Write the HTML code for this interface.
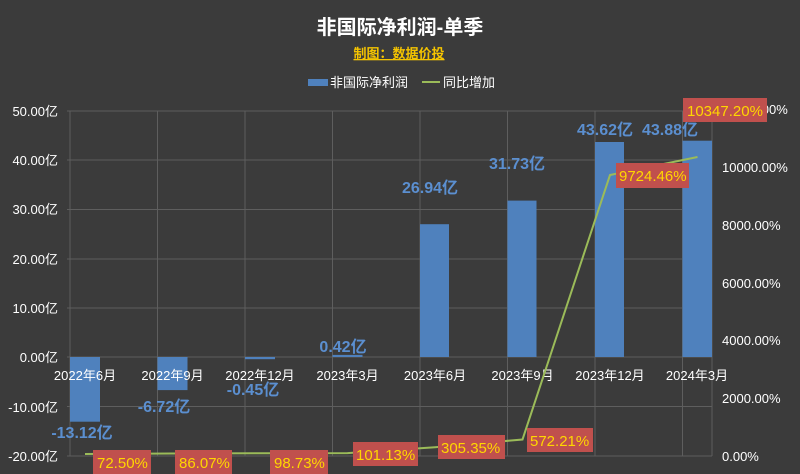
<!DOCTYPE html>
<html><head><meta charset="utf-8"><style>
html,body{margin:0;padding:0;background:#3b3b3b;}
svg{display:block;font-family:"Liberation Sans","Noto Sans CJK SC",sans-serif;}
</style></head><body>
<svg width="800" height="474" viewBox="0 0 800 474">
<rect width="800" height="474" fill="#3b3b3b"/>
<text x="400" y="34" text-anchor="middle" fill="#fff" font-size="20" font-weight="bold">非国际净利润-单季</text>
<text x="399" y="58" text-anchor="middle" fill="#f5c400" font-size="13" font-weight="bold" text-decoration="underline">制图：数据价投</text>
<rect x="308" y="79" width="20" height="7" fill="#4f81bd"/>
<text x="330" y="87" fill="#fff" font-size="13">非国际净利润</text>
<line x1="422" y1="82" x2="440" y2="82" stroke="#9bbb59" stroke-width="2"/>
<text x="443" y="87" fill="#fff" font-size="13">同比增加</text>
<g stroke="#5e5e5e" stroke-width="1">
<line x1="67" y1="111" x2="712" y2="111"/><line x1="67" y1="160" x2="712" y2="160"/>
<line x1="67" y1="209.5" x2="712" y2="209.5"/><line x1="67" y1="259" x2="712" y2="259"/>
<line x1="67" y1="308" x2="712" y2="308"/><line x1="67" y1="357" x2="712" y2="357"/>
<line x1="67" y1="406.5" x2="712" y2="406.5"/><line x1="67" y1="456" x2="712" y2="456"/>
<line x1="70" y1="111" x2="70" y2="456"/><line x1="157.5" y1="111" x2="157.5" y2="456"/>
<line x1="245" y1="111" x2="245" y2="456"/><line x1="332.5" y1="111" x2="332.5" y2="456"/>
<line x1="420" y1="111" x2="420" y2="456"/><line x1="507.5" y1="111" x2="507.5" y2="456"/>
<line x1="595" y1="111" x2="595" y2="456"/><line x1="682.5" y1="111" x2="682.5" y2="456"/>
<line x1="712" y1="111" x2="712" y2="456"/>
</g>
<g fill="#fff" font-size="13" text-anchor="end">
<text x="58" y="116">50.00亿</text><text x="58" y="165">40.00亿</text><text x="58" y="214">30.00亿</text>
<text x="58" y="264">20.00亿</text><text x="58" y="313">10.00亿</text><text x="58" y="362">0.00亿</text>
<text x="58" y="412">-10.00亿</text><text x="58" y="461">-20.00亿</text>
</g>
<g fill="#fff" font-size="13" text-anchor="start">
<text x="722" y="114">12000.00%</text><text x="722" y="172">10000.00%</text><text x="722" y="230">8000.00%</text>
<text x="722" y="288">6000.00%</text><text x="722" y="345">4000.00%</text><text x="722" y="403">2000.00%</text>
<text x="722" y="461">0.00%</text>
</g>
<g fill="#4f81bd">
<rect x="70" y="357" width="30" height="64.7"/>
<rect x="157.5" y="357" width="30" height="33.1"/>
<rect x="245" y="357" width="30" height="2.2"/>
<rect x="332.5" y="354.9" width="30" height="2.1"/>
<rect x="420" y="224.2" width="29" height="132.8"/>
<rect x="507.5" y="200.6" width="29" height="156.4"/>
<rect x="595" y="142" width="29" height="215"/>
<rect x="682.5" y="140.7" width="29.5" height="216.3"/>
</g>
<g fill="#fff" font-size="13" text-anchor="middle">
<text x="85" y="380">2022年6月</text><text x="172.5" y="380">2022年9月</text>
<text x="260" y="380">2022年12月</text><text x="347.5" y="380">2023年3月</text>
<text x="435" y="380">2023年6月</text><text x="522.5" y="380">2023年9月</text>
<text x="610" y="380">2023年12月</text><text x="697" y="380">2024年3月</text>
</g>
<g fill="#5b8fd0" font-size="16" font-weight="bold" text-anchor="middle">
<text x="82" y="438">-13.12亿</text><text x="164" y="412">-6.72亿</text>
<text x="253" y="395">-0.45亿</text><text x="343" y="352">0.42亿</text>
<text x="430" y="193">26.94亿</text><text x="517" y="169">31.73亿</text>
<text x="605" y="135">43.62亿</text><text x="670" y="135">43.88亿</text>
</g>
<polyline fill="none" stroke="#9bbb59" stroke-width="2" points="85,454 172.5,453.5 260,453.2 347.5,453.1 435,447.2 522.5,439.5 610,175 697.5,157"/>
<g font-size="15">
<rect x="93" y="450" width="58" height="24" fill="#c0504d"/><text x="97" y="468" fill="#ffd700">72.50%</text>
<rect x="175" y="450" width="57" height="24" fill="#c0504d"/><text x="179" y="468" fill="#ffd700">86.07%</text>
<rect x="270" y="450" width="58" height="24" fill="#c0504d"/><text x="274" y="468" fill="#ffd700">98.73%</text>
<rect x="353" y="442" width="65" height="24" fill="#c0504d"/><text x="356" y="460" fill="#ffd700">101.13%</text>
<rect x="438" y="435" width="67" height="24" fill="#c0504d"/><text x="441" y="453" fill="#ffd700">305.35%</text>
<rect x="527" y="428" width="66" height="24" fill="#c0504d"/><text x="530" y="446" fill="#ffd700">572.21%</text>
<rect x="616" y="163" width="73" height="25" fill="#c0504d"/><text x="619" y="181" fill="#ffd700">9724.46%</text>
<rect x="683" y="98" width="84" height="24" fill="#c0504d"/><text x="687" y="116" fill="#ffd700">10347.20%</text>
</g>
</svg>
</body></html>
